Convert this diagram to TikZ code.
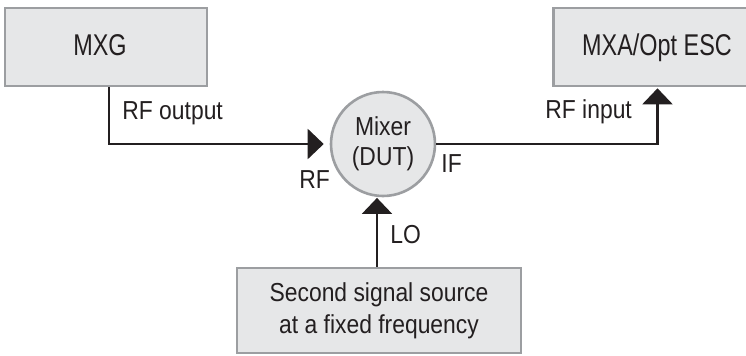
\documentclass[tikz,border=0pt]{standalone}
\usepackage{fontspec}
\usetikzlibrary{arrows.meta}
\newfontfamily\labfont[FakeStretch=0.88]{Liberation Sans}
\newfontfamily\boxfont[FakeStretch=0.78]{Liberation Sans}
\definecolor{boxfill}{HTML}{E6E7E8}
\definecolor{boxline}{HTML}{9C9EA1}
\definecolor{ink}{HTML}{231F20}
\tikzset{
  unit/.style={x=0.5pt,y=-0.5pt},
  boxnode/.style={draw=boxline,fill=boxfill,line width=1.3pt,inner sep=0pt},
  title/.style={font=\boxfont\fontsize{15}{18}\selectfont,text=ink,inner sep=0pt,anchor=base},
  lab/.style={font=\labfont\fontsize{13}{15}\selectfont,text=ink,inner sep=0pt,anchor=base west},
  conn/.style={draw=ink,line width=1.1pt,-{Triangle[length=8pt,width=15pt]}}
}
\begin{document}
\begin{tikzpicture}[unit]
\useasboundingbox (0,0) rectangle (746,355);
\clip (0,0) rectangle (746,355);
% boxes
\node[boxnode,minimum width=101pt,minimum height=39pt] (mxg) at (106,47) {};
\node[title] (mxgt) at (100,55) {MXG};
\node[boxnode,minimum width=104pt,minimum height=39pt] (mxa) at (657.5,47) {};
\node[title] (mxat) at (657,55) {MXA/Opt ESC};
\node[boxnode,minimum width=142pt,minimum height=42.5pt,align=center,
      font=\labfont\fontsize{13}{16}\selectfont,text=ink] (src) at (379,310.5)
      {Second signal source\\at a fixed frequency};
% mixer
\node[circle,draw=boxline,fill=boxfill,line width=1.3pt,minimum size=52pt,inner sep=0pt,
      align=center,font=\labfont\fontsize{13}{15}\selectfont,text=ink] (mix) at (383,144)
      {Mixer\\(DUT)};
% connectors
\draw[conn,shorten >=3pt] ([xshift=1.5pt]mxg.south) |- (mix.west);
\draw[conn,shorten >=0.5pt] (mix.east) -| (mxa.south);
\draw[conn,shorten >=0.3pt] ([xshift=-1pt]src.north) -- ([xshift=-1pt]src.north |- mix.south);
% labels
\node[lab] (lrfo) at (122,119) {RF output};
\node[lab] (lrf) at (299,188) {RF};
\node[lab] (lif) at (441,172) {IF};
\node[lab] (lrfi) at (545,118) {RF input};
\node[lab] (llo) at (390,243) {LO};
\end{tikzpicture}
\end{document}
